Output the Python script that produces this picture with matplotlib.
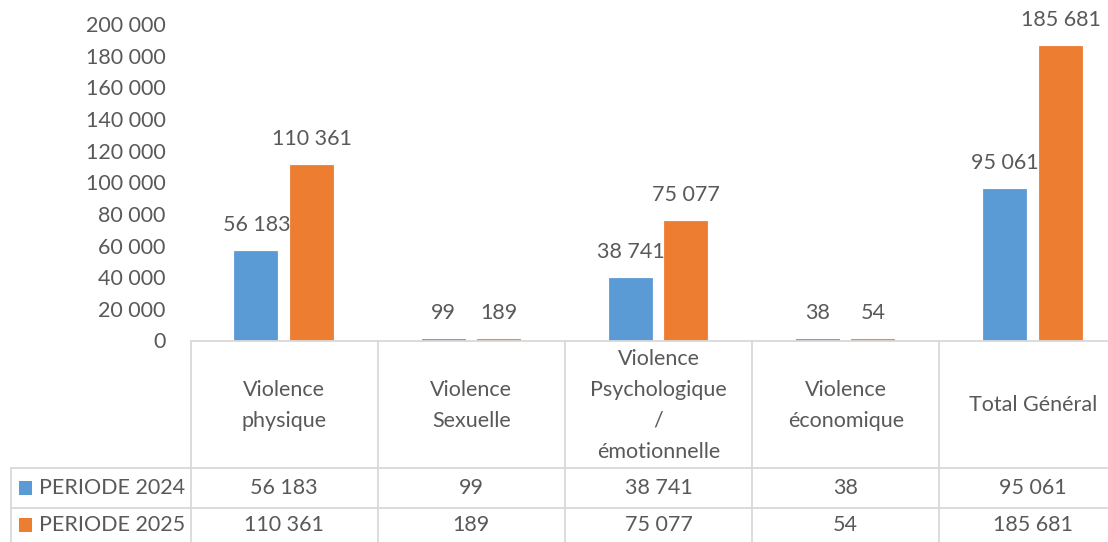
import matplotlib
matplotlib.use("Agg")
import matplotlib.pyplot as plt
from matplotlib.patches import Rectangle
from matplotlib.ticker import FuncFormatter

categories = ["Violence\nphysique", "Violence\nSexuelle", "Violence\nPsychologique\n/\némotionnelle",
              "Violence\néconomique", "Total Général"]
series_names = ["PERIODE 2024", "PERIODE 2025"]
values_2024 = [56183, 99, 38741, 38, 95061]
values_2025 = [110361, 189, 75077, 54, 185681]
yticks = list(range(0, 200001, 20000))

BLUE = "#5B9BD5"
ORANGE = "#ED7D31"
TXT = "#595959"
GRID = "#D9D9D9"
FONT = "Lato"
FS = 15.5

plt.rcParams['font.family'] = [FONT, 'DejaVu Sans']

W, H = 1108, 542
fig = plt.figure(figsize=(W / 100, H / 100), dpi=100)

# pixel geometry of the original
x_left, col_w = 190.5, 187.2
n = len(categories)
x_right = x_left + n * col_w
y_zero, y_top = 340.5, 24.0

ax = fig.add_axes([x_left / W, (H - y_zero) / H, (x_right - x_left) / W, (y_zero - y_top) / H])
ax.set_xlim(-0.5, n - 0.5)
ax.set_ylim(0, 200000)
for s in ax.spines.values():
    s.set_visible(False)
ax.set_xticks([])
ax.set_yticks(yticks)
ax.yaxis.set_major_formatter(FuncFormatter(lambda v, p: f"{int(v):,}".replace(",", " ")))
ax.tick_params(axis='y', length=0, pad=18, labelsize=FS, labelcolor=TXT)

bw = 0.225
off = 0.148
xs = list(range(n))
fmt = lambda v: f"{v:,}".replace(",", " ")
for vals, col, sgn in [(values_2024, BLUE, -1), (values_2025, ORANGE, 1)]:
    pos = [x + sgn * off for x in xs]
    bars = ax.bar(pos, vals, width=bw, color=col, linewidth=1.3, edgecolor=col)
    for b, v in zip(bars, vals):
        ax.annotate(fmt(v), (b.get_x() + b.get_width() / 2, v), xytext=(0, 19.5),
                    textcoords="offset points", ha="center", va="center",
                    fontsize=FS, color=TXT, annotation_clip=False)

# table axes (y in original pixel units)
tax = fig.add_axes([x_left / W, 0, (x_right - x_left) / W, (H - y_zero) / H])
tax.set_xlim(-0.5, n - 0.5)
tax.set_ylim(H, y_zero)
tax.axis("off")

def px2x(px):
    return -0.5 + (px - x_left) / col_w

row_lines = [y_zero, 468, 507.5, 548]
lc = dict(color=GRID, lw=1.3, clip_on=False)
# horizontal lines
tax.plot([-0.5, n - 0.5], [row_lines[0]] * 2, **lc)
for yl in row_lines[1:]:
    tax.plot([px2x(11), n - 0.5], [yl, yl], **lc)
# vertical lines
for i in range(n + 1):
    tax.plot([i - 0.5, i - 0.5], [row_lines[0], row_lines[-1]], **lc)
tax.plot([px2x(11)] * 2, [row_lines[1], row_lines[-1]], **lc)

# header text
hdr_c = (row_lines[0] + row_lines[1]) / 2 + 1
line_gap = 31
for i, c in enumerate(categories):
    lines = c.split("\n")
    k = len(lines)
    for j, ln in enumerate(lines):
        yy = hdr_c + (j - (k - 1) / 2) * line_gap
        tax.text(i, yy, ln, ha="center", va="center", fontsize=FS, color=TXT, clip_on=False)

# data rows
row_c = [(row_lines[1] + row_lines[2]) / 2 + 0.5, (row_lines[2] + row_lines[3]) / 2 - 2.5]
for r, (vals, col, name) in enumerate([(values_2024, BLUE, series_names[0]),
                                       (values_2025, ORANGE, series_names[1])]):
    yc = row_c[r]
    for i, v in enumerate(vals):
        tax.text(i, yc, fmt(v), ha="center", va="center", fontsize=FS, color=TXT, clip_on=False)
    sq = 14
    tax.add_patch(Rectangle((px2x(18.5), yc - sq / 2), px2x(18.5 + sq) - px2x(18.5), sq,
                            facecolor=col, edgecolor="none", clip_on=False))
    tax.text(px2x(39), yc, name, ha="left", va="center", fontsize=FS, color=TXT, clip_on=False)

fig.savefig("out.png", dpi=100, facecolor="white")
